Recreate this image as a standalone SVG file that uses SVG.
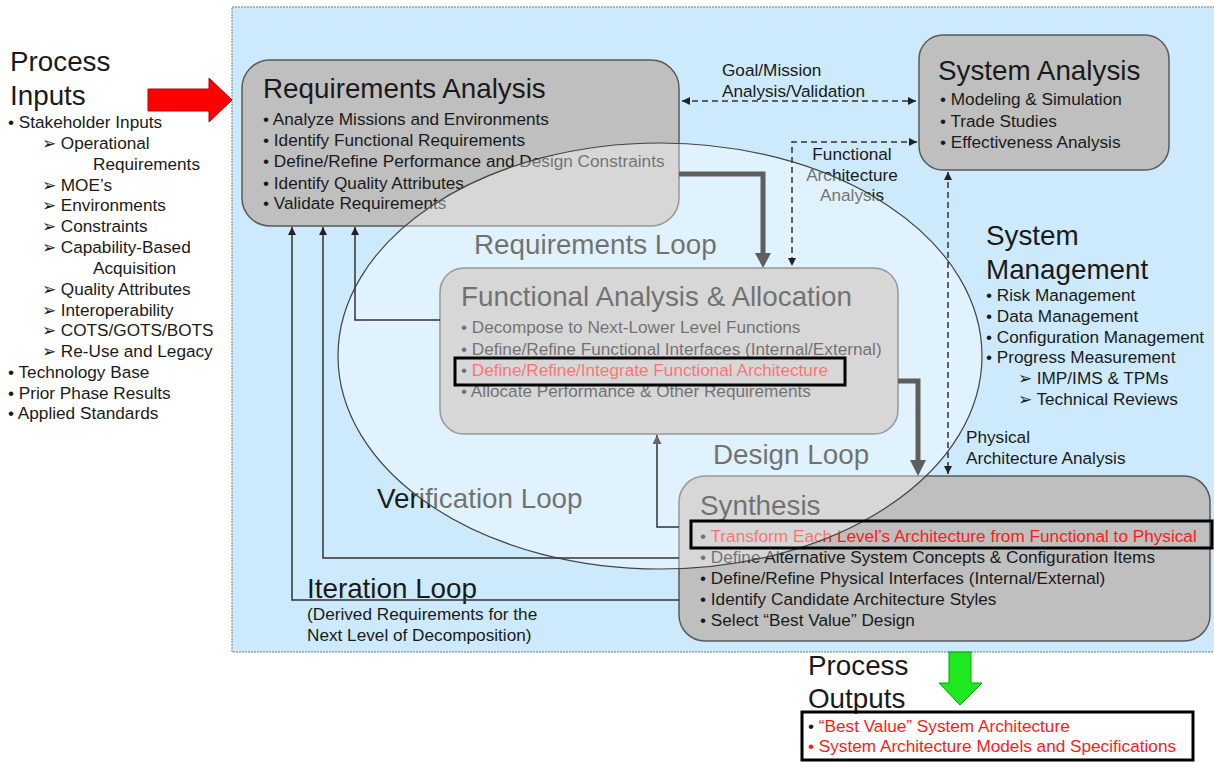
<svg xmlns="http://www.w3.org/2000/svg" width="1214" height="762" viewBox="0 0 1214 762">
<defs>
<style>
text{font-family:"Liberation Sans",Arial,sans-serif;fill:#1a1a1a}
.t{font-size:27.8px}
.b{font-size:17.2px}
.s{font-size:17.2px}
.box{fill:#bfbfbf;stroke:#5a5a5a;stroke-width:1.5}
.thin{fill:none;stroke:#333;stroke-width:1.5}
.dash{fill:none;stroke:#333;stroke-width:1.5;stroke-dasharray:6 4}
.thick{fill:none;stroke:#5e5e5e;stroke-width:5}
.red{fill:#ff1a1a}
.hl{fill:none;stroke:#000;stroke-width:3}
</style>
<marker id="ah" viewBox="0 0 10 10" refX="10" refY="5" markerWidth="8" markerHeight="8" markerUnits="userSpaceOnUse" orient="auto-start-reverse"><path d="M0,0 L10,5 L0,10 z" fill="#222"/></marker>
<marker id="ahg" viewBox="0 0 10 10" refX="10" refY="5" markerWidth="9" markerHeight="9" markerUnits="userSpaceOnUse" orient="auto-start-reverse"><path d="M0,0 L10,5 L0,10 z" fill="#666"/></marker>
</defs>
<rect width="1214" height="762" fill="#fff"/>
<rect x="232" y="7" width="990" height="645" fill="#cdeafc" stroke="#777" stroke-width="1" stroke-dasharray="2 1"/>

<g id="process-inputs">
<text class="t" x="10" y="71">Process</text>
<text class="t" x="10" y="105">Inputs</text>
<text class="b" x="8" y="128">• Stakeholder Inputs</text>
<text class="b" x="42" y="149">➢ Operational</text>
<text class="b" x="93" y="170">Requirements</text>
<text class="b" x="42" y="191">➢ MOE’s</text>
<text class="b" x="42" y="211">➢ Environments</text>
<text class="b" x="42" y="232">➢ Constraints</text>
<text class="b" x="42" y="253">➢ Capability-Based</text>
<text class="b" x="93" y="274">Acquisition</text>
<text class="b" x="42" y="295">➢ Quality Attributes</text>
<text class="b" x="42" y="316">➢ Interoperability</text>
<text class="b" x="42" y="336">➢ COTS/GOTS/BOTS</text>
<text class="b" x="42" y="357">➢ Re-Use and Legacy</text>
<text class="b" x="8" y="378">• Technology Base</text>
<text class="b" x="8" y="399">• Prior Phase Results</text>
<text class="b" x="8" y="419">• Applied Standards</text>
<path d="M148,89 H209 V78 L232,100 L209,122 V111 H148 Z" fill="#ff0000" stroke="#b00" stroke-width="1"/>
</g>

<g id="requirements-analysis">
<rect class="box" x="242" y="60" width="437" height="166" rx="28"/>
<text class="t" x="263" y="98">Requirements Analysis</text>
<text class="b" x="263" y="125">• Analyze Missions and Environments</text>
<text class="b" x="263" y="146">• Identify Functional Requirements</text>
<text class="b" x="263" y="167">• Define/Refine Performance and Design Constraints</text>
<text class="b" x="263" y="189">• Identify Quality Attributes</text>
<text class="b" x="263" y="209">• Validate Requirements</text>
</g>

<g id="system-analysis">
<rect class="box" x="919" y="35" width="250" height="135" rx="24"/>
<text class="t" x="938" y="80">System Analysis</text>
<text class="b" x="940" y="105">• Modeling &amp; Simulation</text>
<text class="b" x="940" y="127">• Trade Studies</text>
<text class="b" x="940" y="148">• Effectiveness Analysis</text>
</g>

<g id="functional-analysis">
<rect class="box" x="440" y="268" width="458" height="166" rx="24"/>
<text class="t" x="461" y="306">Functional Analysis &amp; Allocation</text>
<text class="b" x="461" y="333">• Decompose to Next-Lower Level Functions</text>
<text class="b" x="461" y="355">• Define/Refine Functional Interfaces (Internal/External)</text>
<text class="b" x="461" y="376">• <tspan class="red">Define/Refine/Integrate Functional Architecture</tspan></text>
<text class="b" x="461" y="397">• Allocate Performance &amp; Other Requirements</text>
</g>

<g id="synthesis">
<rect class="box" x="679" y="476" width="531" height="165" rx="26"/>
<text class="t" x="700" y="515">Synthesis</text>
<text class="b" x="700" y="542">• <tspan class="red">Transform Each Level’s Architecture from Functional to Physical</tspan></text>
<text class="b" x="700" y="563">• Define Alternative System Concepts &amp; Configuration Items</text>
<text class="b" x="700" y="584">• Define/Refine Physical Interfaces (Internal/External)</text>
<text class="b" x="700" y="605">• Identify Candidate Architecture Styles</text>
<text class="b" x="700" y="626">• Select “Best Value” Design</text>
</g>

<g id="system-management">
<text class="t" x="986" y="245">System</text>
<text class="t" x="986" y="279">Management</text>
<text class="b" x="986" y="301">• Risk Management</text>
<text class="b" x="986" y="322">• Data Management</text>
<text class="b" x="986" y="343">• Configuration Management</text>
<text class="b" x="986" y="363">• Progress Measurement</text>
<text class="b" x="1018" y="384">➢ IMP/IMS &amp; TPMs</text>
<text class="b" x="1018" y="405">➢ Technical Reviews</text>
</g>

<g id="labels">
<text class="s" x="722" y="76">Goal/Mission</text>
<text class="s" x="722" y="97">Analysis/Validation</text>
<text class="s" x="852" y="160" text-anchor="middle">Functional</text>
<text class="s" x="852" y="181" text-anchor="middle">Architecture</text>
<text class="s" x="852" y="201" text-anchor="middle">Analysis</text>
<text class="s" x="966" y="443">Physical</text>
<text class="s" x="966" y="464">Architecture Analysis</text>
<text class="t" x="474" y="254">Requirements Loop</text>
<text class="t" x="713" y="464">Design Loop</text>
<text class="t" x="377" y="508">Verification Loop</text>
<text class="t" x="307" y="598">Iteration Loop</text>
<text class="s" x="307" y="620">(Derived Requirements for the</text>
<text class="s" x="307" y="641">Next Level of Decomposition)</text>
</g>

<ellipse cx="660" cy="356" rx="322" ry="213" fill="#fff" fill-opacity="0.38" stroke="#444" stroke-width="1.2"/>

<g id="connectors">
<path class="dash" d="M682,101 H916" marker-start="url(#ah)" marker-end="url(#ah)"/>
<path class="dash" d="M917,142 H792 V266" marker-start="url(#ah)" marker-end="url(#ah)"/>
<path class="dash" d="M948,172 V474" marker-start="url(#ah)" marker-end="url(#ah)"/>
<path class="thick" d="M679,174 H763 V255"/>
<path d="M755,253 L771,253 L763,268 Z" fill="#5e5e5e"/>
<path class="thick" d="M898,381 H918 V462"/>
<path d="M910,460 L926,460 L918,476 Z" fill="#5e5e5e"/>
<path class="thin" d="M440,320 H355 V227" stroke="#444" marker-end="url(#ah)"/>
<path class="thin" d="M679,558 H323 V227" marker-end="url(#ah)"/>
<path class="thin" d="M679,600 H292 V227" marker-end="url(#ah)"/>
<path class="thin" d="M679,527 H657 V435" stroke="#666" marker-end="url(#ahg)"/>
</g>

<g id="highlights">
<rect class="hl" x="455" y="358" width="390" height="27"/>
<rect class="hl" x="691" y="521" width="521" height="27"/>
</g>

<g id="process-outputs">
<path d="M949,652 H971 V683 H982 L960,705 L939,683 H949 Z" fill="#1ee81e" stroke="#0a0" stroke-width="1"/>
<text class="t" x="808" y="675">Process</text>
<text class="t" x="808" y="708">Outputs</text>
<rect class="hl" x="802" y="712" width="391" height="48"/>
<text class="b" x="808" y="732">• <tspan class="red">“Best Value” System Architecture</tspan></text>
<text class="b red" x="808" y="752">• System Architecture Models and Specifications</text>
</g>
</svg>
